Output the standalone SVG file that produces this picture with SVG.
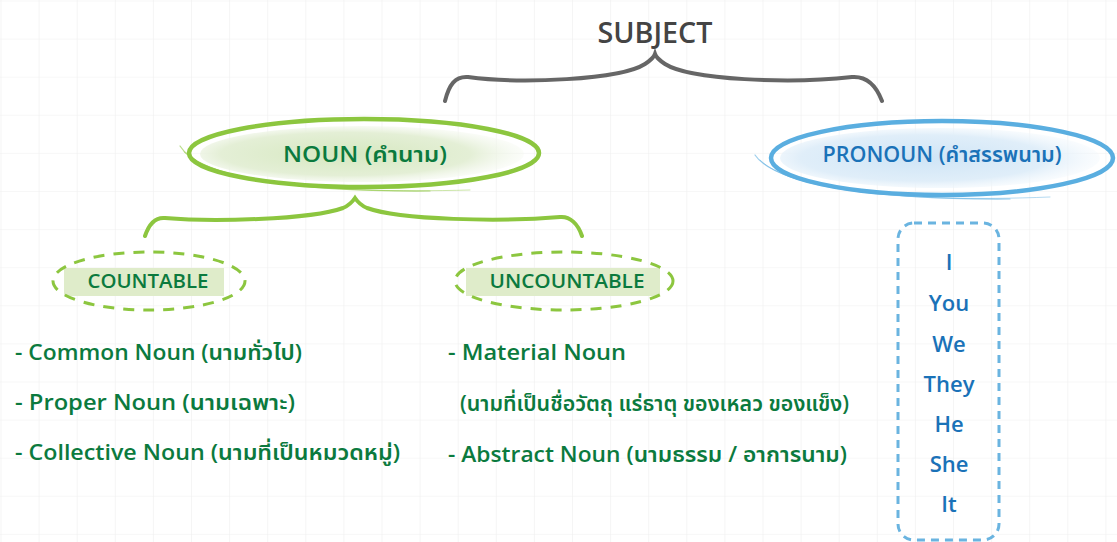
<svg xmlns="http://www.w3.org/2000/svg" width="1117" height="542" viewBox="0 0 1117 542">
<style>
.t{font-family:"Open Sans","Noto Sans Thai","Noto Sans Thai UI","Noto Looped Thai","Garuda","Loma","DejaVu Sans",sans-serif;font-weight:600}
.g{fill:#0b7a3e}
.b{fill:#1a72b8}
.gs{fill:none;stroke:#8cc63f;stroke-linecap:round}
.bs{fill:none;stroke:#5aaee0;stroke-linecap:round}
.dash{fill:none;stroke:#8cc63f;stroke-width:3;stroke-dasharray:11 9}
</style>
<defs>
<pattern id="grid" width="38.1" height="38.1" patternUnits="userSpaceOnUse" x="0.5" y="0.5">
<path d="M0 0H38.1M0 0V38.1" fill="none" stroke="#efefef" stroke-width="1.2"/>
</pattern>
<radialGradient id="gw" cx="0.45" cy="0.5" r="0.55">
<stop offset="0" stop-color="#d6e8c0"/>
<stop offset="0.7" stop-color="#e4efd6"/>
<stop offset="1" stop-color="#f2f7ec" stop-opacity="0.3"/>
</radialGradient>
<radialGradient id="bw" cx="0.45" cy="0.5" r="0.55">
<stop offset="0" stop-color="#cfe5f6"/>
<stop offset="0.7" stop-color="#e0eef9"/>
<stop offset="1" stop-color="#eef6fc" stop-opacity="0.3"/>
</radialGradient>
</defs>
<rect width="1117" height="542" fill="#fff"/>
<rect width="1117" height="542" fill="url(#grid)"/>

<g id="connectors">
<path d="M445 101 C449 85 455 76 468 77 C520 84 620 80 645 64 C651 60 654 57 655 54 C656 57 659 60 665 64 C690 80 790 84 852 77 C866 76 876 85 882 101" fill="none" stroke="#666" stroke-width="4" stroke-linecap="round"/>
<path d="M145 236 C149 224 155 217 165 218 C210 222 310 220 343 208 C350 205 353 201 355 198 C357 201 360 205 367 208 C400 220 500 222 560 217 C570 216 578 224 582 236" class="gs" stroke-width="4"/>
</g>

<g id="subject">
<text x="655" y="43" text-anchor="middle" class="t" font-size="29" fill="#444" textLength="115" lengthAdjust="spacingAndGlyphs">SUBJECT</text>
</g>

<g id="noun">
<ellipse cx="362" cy="154" rx="162" ry="28" fill="url(#gw)"/>
<ellipse cx="364" cy="153" rx="175" ry="34" class="gs" stroke-width="4.5"/>
<path d="M180 146 C200 178 300 192 430 191" class="gs" stroke-width="1.2" opacity="0.6"/>
<path d="M184 152 C215 182 320 194 470 190" class="gs" stroke-width="1" opacity="0.45"/>
<text x="365" y="162" text-anchor="middle" class="t g" font-size="21" textLength="164" lengthAdjust="spacingAndGlyphs">NOUN (คำนาม)</text>
</g>

<g id="pronoun">
<ellipse cx="940" cy="158" rx="160" ry="30" fill="url(#bw)"/>
<ellipse cx="942" cy="158" rx="171" ry="37" class="bs" stroke-width="4.5"/>
<path d="M755 155 C775 185 880 200 1010 199" class="bs" stroke-width="1.2" opacity="0.6"/>
<path d="M760 160 C790 190 900 203 1050 197" class="bs" stroke-width="1" opacity="0.45"/>
<text x="942" y="162" text-anchor="middle" class="t b" font-size="21" textLength="239" lengthAdjust="spacingAndGlyphs">PRONOUN (คำสรรพนาม)</text>
</g>

<g id="countable">
<rect x="64" y="268" width="160" height="28" fill="#dfecca"/>
<ellipse cx="149" cy="281" rx="96" ry="29" class="dash"/>
<text x="148" y="288" text-anchor="middle" class="t g" font-size="19" textLength="121" lengthAdjust="spacingAndGlyphs">COUNTABLE</text>
</g>

<g id="uncountable">
<rect x="466" y="268" width="194" height="28" fill="#dfecca"/>
<ellipse cx="564" cy="281" rx="109" ry="29" class="dash"/>
<text x="567" y="288" text-anchor="middle" class="t g" font-size="19" textLength="155" lengthAdjust="spacingAndGlyphs">UNCOUNTABLE</text>
</g>

<g id="countable-list" class="t g" font-size="21">
<text x="15" y="360" textLength="287" lengthAdjust="spacingAndGlyphs">- Common Noun (นามทั่วไป)</text>
<text x="15" y="410" textLength="280" lengthAdjust="spacingAndGlyphs">- Proper Noun (นามเฉพาะ)</text>
<text x="15" y="460" textLength="385" lengthAdjust="spacingAndGlyphs">- Collective Noun (นามที่เป็นหมวดหมู่)</text>
</g>

<g id="uncountable-list" class="t g" font-size="21">
<text x="448" y="360" textLength="178" lengthAdjust="spacingAndGlyphs">- Material Noun</text>
<text x="460" y="411" textLength="389" lengthAdjust="spacingAndGlyphs">(นามที่เป็นชื่อวัตถุ แร่ธาตุ ของเหลว ของแข็ง)</text>
<text x="448" y="462" textLength="399" lengthAdjust="spacingAndGlyphs">- Abstract Noun (นามธรรม / อาการนาม)</text>
</g>

<g id="pronoun-list">
<rect x="898" y="223" width="101" height="317" rx="16" fill="none" stroke="#6ab4e0" stroke-width="3" stroke-dasharray="8 6"/>
<g class="t b" font-size="22" text-anchor="middle">
<text x="949" y="270">I</text>
<text x="949" y="311">You</text>
<text x="949" y="352">We</text>
<text x="949" y="392">They</text>
<text x="949" y="432">He</text>
<text x="949" y="472">She</text>
<text x="949" y="512">It</text>
</g>
</g>
</svg>
